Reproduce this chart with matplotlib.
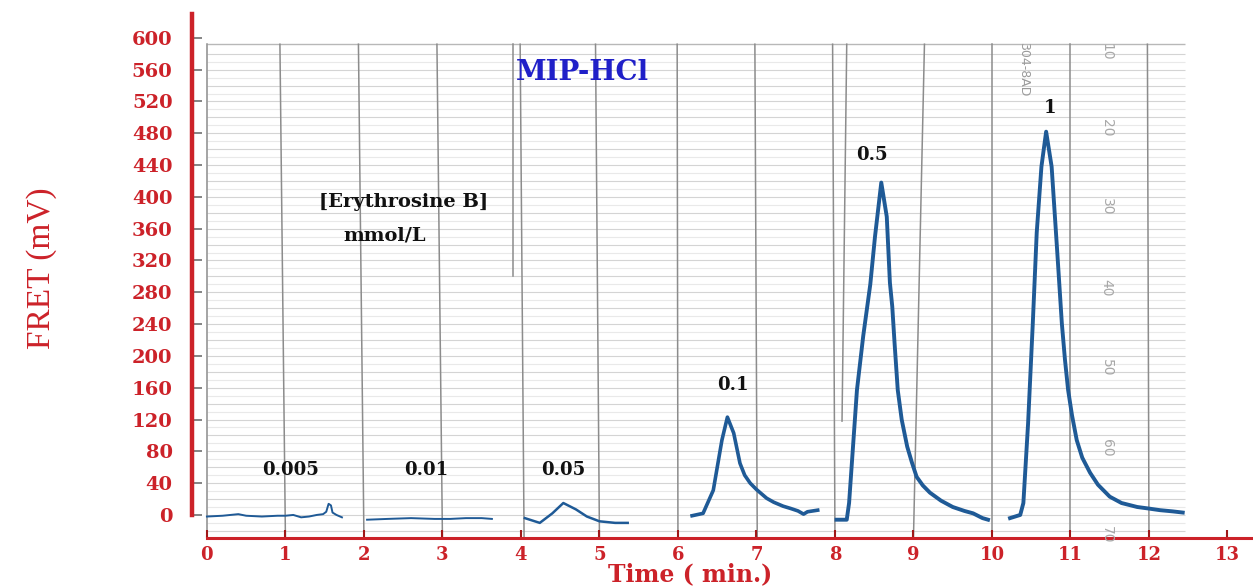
import matplotlib.pyplot as plt

# FRET traces for each erythrosine B injection, time (min) vs signal (mV)
t_0005 = [0.0, 0.2, 0.4, 0.5, 0.7, 0.9, 1.0, 1.1, 1.2, 1.3, 1.4, 1.48, 1.52, 1.55, 1.58, 1.6, 1.65, 1.72]
mv_0005 = [-2, -1, 1, -1, -2, -1, -1, 0, -3, -2, 0, 1, 4, 14, 12, 3, 0, -3]

t_001 = [2.04, 2.3, 2.6, 2.9, 3.1, 3.3, 3.5, 3.63]
mv_001 = [-6, -5, -4, -5, -5, -4, -4, -5]

t_005 = [4.05, 4.24, 4.4, 4.54, 4.7, 4.84, 5.0, 5.2, 5.36]
mv_005 = [-4, -10, 2, 15, 7, -2, -8, -10, -10]

t_01 = [6.18, 6.32, 6.45, 6.56, 6.63, 6.71, 6.79, 6.85, 6.92, 7.0, 7.13, 7.22, 7.34, 7.44,
        7.53, 7.6, 7.65, 7.78]
mv_01 = [-1, 2, 31, 94, 123, 103, 65, 50, 40, 32, 21, 16, 11, 8, 5, 1, 4, 6]

t_05 = [8.02, 8.15, 8.18, 8.28, 8.36, 8.45, 8.51, 8.59, 8.66, 8.7, 8.73, 8.76, 8.8, 8.85,
        8.92, 8.98, 9.04, 9.12, 9.21, 9.35, 9.5, 9.65, 9.76, 9.88, 9.95]
mv_05 = [-6, -6, 15, 157, 225, 290, 350, 418, 375, 292, 262, 215, 157, 120, 86, 66, 48, 37,
         28, 18, 10, 5, 2, -4, -6]

t_1 = [10.23, 10.36, 10.4, 10.46, 10.52, 10.57, 10.63, 10.69, 10.76, 10.83, 10.89, 10.93,
       10.97, 11.02, 11.08, 11.15, 11.25, 11.35, 11.5, 11.65, 11.85, 12.0, 12.14, 12.3, 12.43]
mv_1 = [-4, 0, 15, 115, 241, 355, 438, 482, 438, 333, 241, 195, 157, 125, 94, 72, 53, 38,
        23, 15, 10, 8, 6, 4.5, 3]

conc_labels = ['0.005', '0.01', '0.05', '0.1', '0.5', '1']
label_x = [1.07, 2.79, 4.54, 6.70, 8.47, 10.74]
label_y = [57, 57, 57, 164, 453, 512]

y_ticks = list(range(0, 601, 40))
x_ticks = list(range(0, 14))

# chart paper scale printed along the right edge
paper_scale = ['10', '20', '30', '40', '50', '60', '70']
paper_scale_y = [607, 512, 412, 311, 210, 109, 0]

red = '#cc2229'
trace = '#1f5a96'

fig = plt.figure(figsize=(12.53, 5.87), dpi=100)
ax = fig.add_axes([192 / 1253, 1 - 538 / 587, 1 - 192 / 1253, (538 - 14) / 587])
ax.set_xlim(-0.19, 13.325)
ax.set_ylim(-29, 630)

# recorder paper: light horizontal rules and darker vertical divisions
for y in range(-20, 590, 10):
    c = '#d4d4d4' if y % 20 == 0 else '#e9e9e9'
    ax.hlines(y, 0, 12.46, color=c, lw=0.8, zorder=0)
ax.hlines(592, 0, 12.46, color='#b8b8b8', lw=1.0, zorder=0)

vlines = [(0.0, 0.0), (1.0, 0.93), (2.0, 1.93), (3.0, 2.93), (4.04, 3.99), (5.0, 4.95),
          (6.0, 5.99), (7.01, 6.98), (8.0, 7.97), (9.0, 9.14), (10.0, 10.0), (11.0, 11.0),
          (12.0, 11.98)]
for xb, xt in vlines:
    ax.plot([xb, xt], [-29, 592], color='#8c8c8c', lw=1.1, zorder=1)
ax.plot([3.9, 3.9], [300, 592], color='#8c8c8c', lw=1.1, zorder=1)
ax.plot([8.09, 8.15], [118, 592], color='#8c8c8c', lw=1.1, zorder=1)

# faint text printed on the recorder paper
ax.text(10.4, 560, '304-8AD', rotation=-90, color='#9a9a9a', fontsize=9,
        ha='center', va='center', family='DejaVu Sans')
for s, y in zip(paper_scale, paper_scale_y):
    ax.text(11.46, y - 25, s, rotation=-90, color='#a8a8a8', fontsize=10,
            ha='center', va='center', family='DejaVu Sans')

# traces
ax.plot(t_0005, mv_0005, color=trace, lw=1.4, zorder=3)
ax.plot(t_001, mv_001, color=trace, lw=1.4, zorder=3)
ax.plot(t_005, mv_005, color=trace, lw=1.8, zorder=3)
ax.plot(t_01, mv_01, color=trace, lw=2.6, zorder=3, solid_joinstyle='round')
ax.plot(t_05, mv_05, color=trace, lw=2.8, zorder=3, solid_joinstyle='round')
ax.plot(t_1, mv_1, color=trace, lw=2.8, zorder=3, solid_joinstyle='round')

for s, x, y in zip(conc_labels, label_x, label_y):
    ax.text(x, y, s, ha='center', va='center', fontsize=13, fontweight='bold',
            family='DejaVu Serif', color='#111111', zorder=4)

ax.text(4.78, 557, 'MIP-HCl', ha='center', va='center', fontsize=20, fontweight='bold',
        family='DejaVu Serif', color='#2020c8', zorder=4)
ax.text(2.51, 394, '[Erythrosine B]', ha='center', va='center', fontsize=14,
        fontweight='bold', family='DejaVu Serif', color='#111111', zorder=4)
ax.text(2.27, 352, 'mmol/L', ha='center', va='center', fontsize=14,
        fontweight='bold', family='DejaVu Serif', color='#111111', zorder=4)

# axes styling
for side in ['top', 'right']:
    ax.spines[side].set_visible(False)
ax.spines['left'].set_color(red)
ax.spines['left'].set_linewidth(3.2)
ax.spines['left'].set_bounds(0, 630)
ax.spines['bottom'].set_color(red)
ax.spines['bottom'].set_linewidth(2.2)
ax.spines['bottom'].set_bounds(0, 13.325)

ax.set_yticks(y_ticks)
ax.set_yticklabels([str(v) for v in y_ticks])
ax.set_xticks(x_ticks)
ax.set_xticklabels([str(v) for v in x_ticks])
ax.tick_params(axis='y', direction='in', length=7, width=1.2, color='#707070',
               pad=14, labelsize=14, labelcolor=red)
ax.tick_params(axis='x', direction='in', length=6, width=1.5, color='#a01818',
               pad=6, labelsize=13, labelcolor=red)
for lab in ax.get_xticklabels() + ax.get_yticklabels():
    lab.set_fontweight('bold')
    lab.set_family('DejaVu Serif')

fig.text(42 / 1253, 1 - 268 / 587, 'FRET (mV)', rotation=90, ha='center', va='center',
         fontsize=24, family='Liberation Serif', color=red)
fig.text(690 / 1253, 1 / 587, 'Time ( min.)', ha='center', va='bottom',
         fontsize=17, fontweight='bold', family='DejaVu Serif', color=red)

fig.savefig('out.png', dpi=100, facecolor='white')
